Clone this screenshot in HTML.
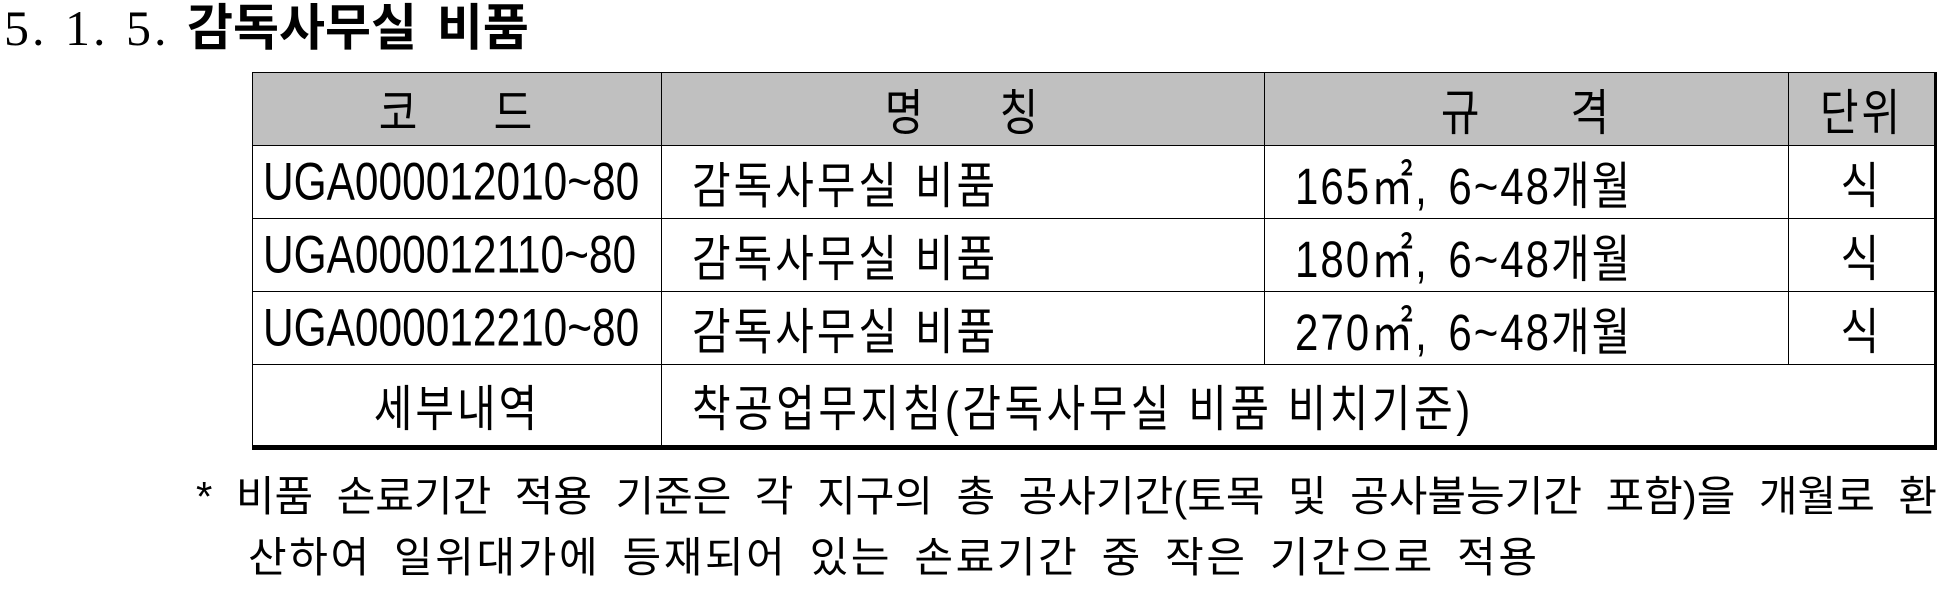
<!DOCTYPE html>
<html><head><meta charset="utf-8"><style>
body{margin:0;width:1947px;height:592px;background:#fff;overflow:hidden;position:relative;font-family:"Liberation Sans","Noto Sans CJK KR",sans-serif;color:#000}
#title{position:absolute;left:4px;top:0px;font-size:50px;line-height:56px;white-space:nowrap}
#title .num{font-family:"Liberation Serif","Noto Serif CJK SC",serif;letter-spacing:3px;word-spacing:2px}
#title .ko{font-weight:bold;font-family:"Liberation Sans","Noto Sans CJK KR",sans-serif;letter-spacing:0px;word-spacing:6px}
table{position:absolute;left:252px;top:72px;border-collapse:collapse;table-layout:fixed;border-right:3px solid #000;border-bottom:5px solid #000}
td{border:1.5px solid #000;font-size:42px;padding:0;height:72px;white-space:nowrap;overflow:hidden}
tr.h td{background:#c0c0c0;text-align:center;height:72px}
.c{text-align:center}
.p{padding-left:30px}
.s{display:inline-block;transform:scaleY(1.18);letter-spacing:3px}
.n{display:inline-block;transform:scale(1.01,1.25);transform-origin:left center}
.sp{display:inline-block;transform:scale(1.0,1.22);transform-origin:left center;letter-spacing:2px;word-spacing:6px}
.foot{position:absolute;font-size:42px;white-space:nowrap;line-height:50px}
</style></head><body>
<div id="title"><span class="num">5. 1. 5. </span><span class="ko">감독사무실 비품</span></div>
<table>
<colgroup><col style="width:409px"><col style="width:603px"><col style="width:524px"><col style="width:147px"></colgroup>
<tr class="h">
<td><span class="s">코&nbsp;&nbsp;&nbsp;&nbsp;&nbsp;드</span></td>
<td><span class="s">명&nbsp;&nbsp;&nbsp;&nbsp;&nbsp;칭</span></td>
<td><span class="s">규&nbsp;&nbsp;&nbsp;&nbsp;&nbsp;&nbsp;격</span></td>
<td><span class="s">단위</span></td></tr>
<tr>
<td style="padding-left:10px"><span class="n">UGA000012010~80</span></td>
<td class="p"><span class="s">감독사무실 비품</span></td>
<td class="p"><span class="sp">165㎡, 6~48개월</span></td>
<td class="c"><span class="s">식</span></td></tr>
<tr>
<td style="padding-left:10px"><span class="n">UGA000012110~80</span></td>
<td class="p"><span class="s">감독사무실 비품</span></td>
<td class="p"><span class="sp">180㎡, 6~48개월</span></td>
<td class="c"><span class="s">식</span></td></tr>
<tr>
<td style="padding-left:10px"><span class="n">UGA000012210~80</span></td>
<td class="p"><span class="s">감독사무실 비품</span></td>
<td class="p"><span class="sp">270㎡, 6~48개월</span></td>
<td class="c"><span class="s">식</span></td></tr>
<tr>
<td class="c" style="height:80px"><span class="s">세부내역</span></td>
<td class="p" colspan="3"><span class="s" style="letter-spacing:3.5px">착공업무지침(감독사무실 비품 비치기준)</span></td></tr>
</table>
<div class="foot" style="left:196px;top:472px;width:1741px;text-align:justify;text-align-last:justify">* 비품 손료기간 적용 기준은 각 지구의 총 공사기간(토목 및 공사불능기간 포함)을 개월로 환</div>
<div class="foot" style="left:248px;top:533px;word-spacing:8px;letter-spacing:2.6px">산하여 일위대가에 등재되어 있는 손료기간 중 작은 기간으로 적용</div>
</body></html>
